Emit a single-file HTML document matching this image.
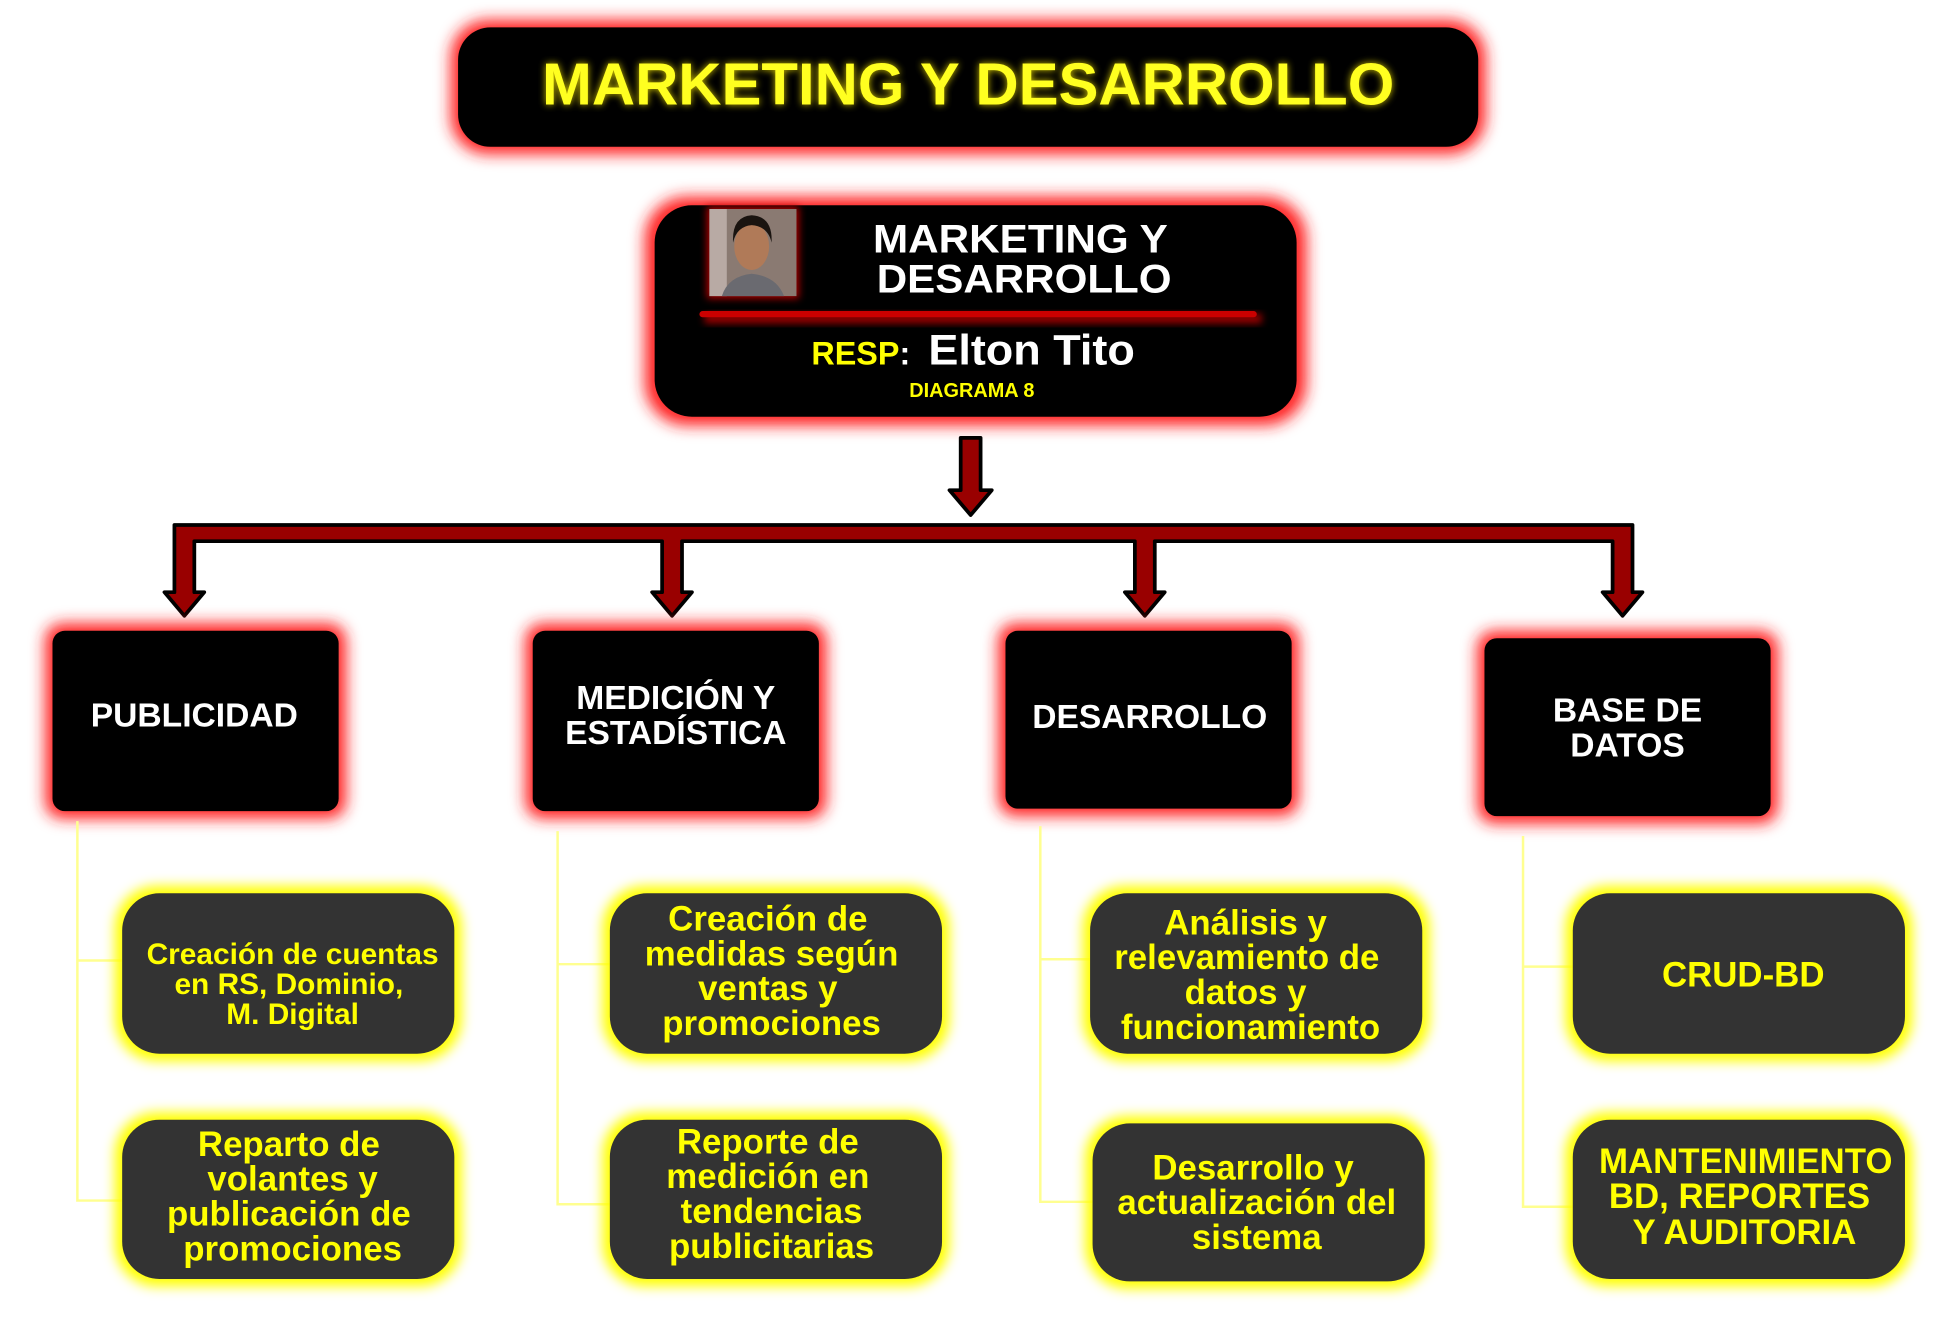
<!DOCTYPE html>
<html><head><meta charset="utf-8"><style>
html,body{margin:0;padding:0;background:#fff;}
svg{display:block;}
text{font-family:"Liberation Sans",Arial,sans-serif;font-weight:bold;}
</style></head><body>
<svg width="1950" height="1320" viewBox="0 0 1567 1061" xmlns="http://www.w3.org/2000/svg">
<defs>
<filter id="gr" x="-20%" y="-30%" width="140%" height="160%"><feGaussianBlur stdDeviation="6"/></filter>
<filter id="gy" x="-20%" y="-30%" width="140%" height="160%"><feGaussianBlur stdDeviation="5"/></filter>
<filter id="tg" x="-10%" y="-40%" width="120%" height="180%"><feGaussianBlur stdDeviation="3"/></filter>
</defs>

<rect x="362" y="16" width="832" height="108" rx="30" fill="#ff2020" filter="url(#gr)"/>
<rect x="368" y="22" width="820" height="96" rx="26" fill="#000"/>
<text x="778" y="84" font-size="48" text-anchor="middle" fill="#ffee00" filter="url(#tg)" opacity="0.8" textLength="685" lengthAdjust="spacingAndGlyphs">MARKETING Y DESARROLLO</text>
<text x="778" y="84" font-size="48" text-anchor="middle" fill="#ffff20" textLength="685" lengthAdjust="spacingAndGlyphs">MARKETING Y DESARROLLO</text>

<rect x="518" y="158" width="532" height="184" rx="34" fill="#ff2020" filter="url(#gr)"/>
<rect x="526" y="165" width="516" height="170" rx="30" fill="#000"/>
<rect x="568" y="166" width="74" height="74" fill="#a00" filter="url(#tg)"/>
<rect x="570" y="168" width="70" height="70" fill="#8a7a72"/>
<rect x="570" y="168" width="14" height="70" fill="#b8aaa4"/>
<path d="M580 238 Q585 222 604 220 Q624 222 630 238 Z" fill="#6a6a70"/>
<ellipse cx="604" cy="198" rx="14" ry="19" fill="#b07a58"/>
<path d="M589 195 Q588 174 604 173 Q621 174 620 195 Q617 182 604 181 Q592 182 589 195 Z" fill="#1a1410"/>
<text x="820" y="203" font-size="32" text-anchor="middle" fill="#fff" textLength="237" lengthAdjust="spacingAndGlyphs">MARKETING Y</text>
<text x="823" y="235" font-size="32" text-anchor="middle" fill="#fff" textLength="237" lengthAdjust="spacingAndGlyphs">DESARROLLO</text>
<rect x="566" y="252" width="448" height="8" fill="#900" filter="url(#tg)"/>
<rect x="562" y="250" width="448" height="5" rx="2.5" fill="#c00"/>
<text x="652" y="293" font-size="26" fill="#ffff00">RESP<tspan fill="#fff">:</tspan></text>
<text x="746" y="293" font-size="34" fill="#fff" textLength="166" lengthAdjust="spacingAndGlyphs">Elton Tito</text>
<text x="781" y="319" font-size="16" text-anchor="middle" fill="#ffff00">DIAGRAMA 8</text>

<path d="M772 352 H788 V394 H797 L780 414 L763 394 H772 Z" fill="#990000" stroke="#000" stroke-width="3" stroke-linejoin="round"/>

<g fill="#990000" stroke="#000" stroke-width="3" stroke-linejoin="round">
<path d="M140 422 H1312 V476 H1320 L1304 495 L1288 476 H1296 V435 H928 V476 H936 L920 495 L904 476 H912 V435 H548 V476 H556 L540 495 L524 476 H532 V435 H156 V476 H164 L148 495 L132 476 H140 Z"/>
</g>

<g>
<rect x="36" y="501" width="242" height="157" rx="14" fill="#ff2020" filter="url(#gr)"/>
<rect x="42" y="507" width="230" height="145" rx="10" fill="#000"/>
<rect x="422" y="501" width="242" height="157" rx="14" fill="#ff2020" filter="url(#gr)"/>
<rect x="428" y="507" width="230" height="145" rx="10" fill="#000"/>
<rect x="802" y="501" width="242" height="155" rx="14" fill="#ff2020" filter="url(#gr)"/>
<rect x="808" y="507" width="230" height="143" rx="10" fill="#000"/>
<rect x="1187" y="507" width="242" height="155" rx="14" fill="#ff2020" filter="url(#gr)"/>
<rect x="1193" y="513" width="230" height="143" rx="10" fill="#000"/>
</g>
<g fill="#fff" font-size="27" text-anchor="middle">
<text x="156" y="584">PUBLICIDAD</text>
<text x="543" y="570">MEDICIÓN Y</text>
<text x="543" y="598">ESTADÍSTICA</text>
<text x="924" y="585">DESARROLLO</text>
<text x="1308" y="580">BASE DE</text>
<text x="1308" y="608">DATOS</text>
</g>

<g stroke="#ffff90" stroke-width="2" fill="none">
<path d="M62 660 V965 H98 M62 772 H98"/>
<path d="M448 668 V968 H490 M448 775 H490"/>
<path d="M836 664 V966 H878 M836 771 H876"/>
<path d="M1224 672 V970 H1264 M1224 777 H1264"/>
</g>

<g fill="#ffff00" filter="url(#gy)">
<rect x="92" y="712" width="279" height="141" rx="34"/>
<rect x="92" y="894" width="279" height="140" rx="34"/>
<rect x="484" y="712" width="279" height="141" rx="34"/>
<rect x="484" y="894" width="279" height="140" rx="34"/>
<rect x="870" y="712" width="279" height="141" rx="34"/>
<rect x="872" y="897" width="279" height="139" rx="34"/>
<rect x="1258" y="712" width="279" height="141" rx="34"/>
<rect x="1258" y="894" width="279" height="140" rx="34"/>
</g>
<g fill="#333">
<rect x="98" y="718" width="267" height="129" rx="30"/>
<rect x="98" y="900" width="267" height="128" rx="30"/>
<rect x="490" y="718" width="267" height="129" rx="30"/>
<rect x="490" y="900" width="267" height="128" rx="30"/>
<rect x="876" y="718" width="267" height="129" rx="30"/>
<rect x="878" y="903" width="267" height="127" rx="30"/>
<rect x="1264" y="718" width="267" height="129" rx="30"/>
<rect x="1264" y="900" width="267" height="128" rx="30"/>
</g>
<g fill="#ffff00" text-anchor="middle">
<g font-size="24">
<text x="235" y="775">Creación de cuentas</text>
<text x="232" y="799">en RS, Dominio,</text>
<text x="235" y="823">M. Digital</text>
</g>
<g font-size="28">
<text x="232" y="929">Reparto de</text>
<text x="235" y="957">volantes y</text>
<text x="232" y="985">publicación de</text>
<text x="235" y="1013">promociones</text>

<text x="617" y="748">Creación de</text>
<text x="620" y="776">medidas según</text>
<text x="617" y="804">ventas y</text>
<text x="620" y="832">promociones</text>

<text x="617" y="927">Reporte de</text>
<text x="617" y="955">medición en</text>
<text x="620" y="983">tendencias</text>
<text x="620" y="1011">publicitarias</text>

<text x="1001" y="751">Análisis y</text>
<text x="1002" y="779">relevamiento de</text>
<text x="1001" y="807">datos y</text>
<text x="1005" y="835">funcionamiento</text>

<text x="1007" y="948">Desarrollo y</text>
<text x="1010" y="976">actualización del</text>
<text x="1010" y="1004">sistema</text>

<text x="1401" y="793">CRUD-BD</text>

<text x="1403" y="943">MANTENIMIENTO</text>
<text x="1398" y="971">BD, REPORTES</text>
<text x="1402" y="1000">Y AUDITORIA</text>
</g>
</g>
</svg>
</body></html>
